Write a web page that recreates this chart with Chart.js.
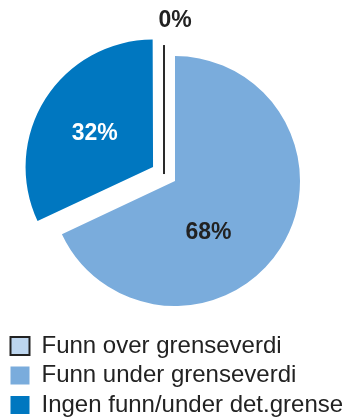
<!DOCTYPE html>
<html>
<head>
<meta charset="utf-8">
<script src="https://cdn.jsdelivr.net/npm/chart.js@4/dist/chart.umd.min.js"></script>
<style>
    html, body { margin: 0; padding: 0; background: #fff; overflow: hidden; }
    .chart-wrap { position: relative; width: 348px; height: 417px; }
</style>
</head>
<body>
<div class="chart-wrap"><canvas id="pie"></canvas></div>
<script>
const categories = ['Funn over grenseverdi', 'Funn under grenseverdi', 'Ingen funn/under det.grense'];
const shares = [0, 68, 32];

const sliceColors = ['#bdd6ef', '#7aacdc', '#0077c0'];
const sliceBorders = ['#222222', '#ffffff', '#ffffff'];
const sliceBorderWidths = [2, 0, 0];
const sliceOffsets = [0, 0, 104];

// where each percentage sits: fraction of the slice's sweep and of the radius
const labelSweep = [0.5, 0.6, 0.48];
const labelReach = [1.28, 0.49, 0.54];
const labelColors = ['#222222', '#222222', '#ffffff'];

// arcs are pushed out by offset / 4 along their middle angle when drawn
function arcShift(arc) {
    const offset = (arc.options.offset || 0) / 4;
    const mid = (arc.startAngle + arc.endAngle) / 2;
    return { x: Math.cos(mid) * offset, y: Math.sin(mid) * offset };
}

const sliceLabels = {
    id: 'sliceLabels',
    afterDatasetsDraw(chart) {
        const { ctx } = chart;
        const arcs = chart.getDatasetMeta(0).data;
        const values = chart.data.datasets[0].data;

        arcs.forEach((arc, i) => {
            const r = arc.outerRadius;

            // an empty slice is shown as a thin rule in the gap left by its neighbour
            if (values[i] === 0) {
                const prev = arcs[(i - 1 + arcs.length) % arcs.length];
                const s = arcShift(prev);
                const x0 = arc.x + s.x / 2;
                const y0 = arc.y + s.y / 2;
                const len = r + 4;
                ctx.save();
                ctx.strokeStyle = '#2a2a2a';
                ctx.lineWidth = 2;
                ctx.beginPath();
                ctx.moveTo(x0, y0);
                ctx.lineTo(x0 + Math.cos(arc.startAngle) * len, y0 + Math.sin(arc.startAngle) * len);
                ctx.stroke();
                ctx.restore();
            }

            const s = arcShift(arc);
            const angle = arc.startAngle + (arc.endAngle - arc.startAngle) * labelSweep[i];
            const dist = r * labelReach[i];
            const x = arc.x + s.x + Math.cos(angle) * dist;
            const y = arc.y + s.y + Math.sin(angle) * dist;

            ctx.save();
            ctx.font = 'bold 23px "Liberation Sans", Arial, sans-serif';
            ctx.fillStyle = labelColors[i];
            ctx.textAlign = 'center';
            ctx.textBaseline = 'middle';
            ctx.fillText(values[i] + '%', x, y);
            ctx.restore();
        });
    },
};

new Chart(document.getElementById('pie'), {
    type: 'pie',
    data: {
        labels: categories,
        datasets: [{
            data: shares,
            backgroundColor: sliceColors,
            borderColor: sliceBorders,
            borderWidth: sliceBorderWidths,
            offset: sliceOffsets,
            hoverOffset: 0,
        }],
    },
    options: {
        responsive: true,
        maintainAspectRatio: false,
        animation: false,
        events: [],
        radius: 125,
        layout: {
            padding: { top: 33.5, left: 5, right: 3, bottom: -10 },
        },
        plugins: {
            legend: {
                display: true,
                position: 'bottom',
                align: 'start',
                labels: {
                    boxWidth: 19,
                    boxHeight: 18,
                    padding: 5.5,
                    color: '#222222',
                    font: { family: '"Liberation Sans", Arial, sans-serif', size: 24 },
                },
            },
            tooltip: { enabled: false },
        },
    },
    plugins: [sliceLabels],
});
</script>
</body>
</html>
